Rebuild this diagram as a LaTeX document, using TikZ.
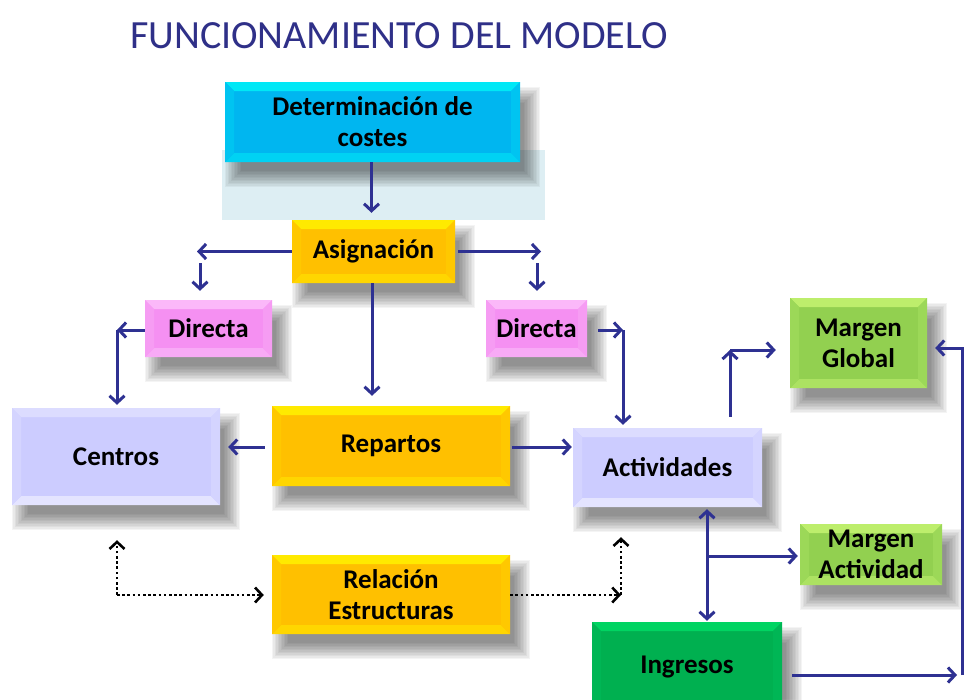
\documentclass[tikz,border=0pt]{standalone}
\usepackage{fontspec}
\setmainfont{Carlito}
\usetikzlibrary{arrows.meta}
\pgfdeclarelayer{bg}
\pgfsetlayers{bg,main}
\definecolor{navy}{HTML}{2E3192}
\definecolor{titlecol}{HTML}{2F3088}
\definecolor{palebg}{HTML}{DDEEF3}
\definecolor{goldM}{HTML}{FFC000}\definecolor{goldT}{HTML}{FFEA00}\definecolor{goldB}{HTML}{FFD600}\definecolor{goldS}{HTML}{FFC800}
\definecolor{cyanM}{HTML}{00B6F0}\definecolor{cyanT}{HTML}{00E8F6}\definecolor{cyanB}{HTML}{00D2F3}\definecolor{cyanS}{HTML}{00C4F1}
\definecolor{pinkM}{HTML}{F590F2}\definecolor{pinkT}{HTML}{FBB8F9}\definecolor{pinkB}{HTML}{F8AAF6}\definecolor{pinkS}{HTML}{F69CF3}
\definecolor{lavM}{HTML}{CCCCFF}\definecolor{lavT}{HTML}{DCDCFF}\definecolor{lavB}{HTML}{E4E4FF}\definecolor{lavS}{HTML}{D4D4FF}
\definecolor{lgM}{HTML}{92D050}\definecolor{lgT}{HTML}{BDEE6C}\definecolor{lgB}{HTML}{ACE262}\definecolor{lgS}{HTML}{9CD858}
\definecolor{grM}{HTML}{00B050}\definecolor{grT}{HTML}{00D462}\definecolor{grB}{HTML}{00C25A}\definecolor{grS}{HTML}{00B655}
\newcommand{\bvl}{9pt}
\tikzset{
  btn/.style n args={4}{
    fill=#1, draw=none, text=black, align=center,
    font=\bfseries\fontsize{27}{31}\selectfont,
    path picture={
      \fill[#2] (path picture bounding box.north west) -- (path picture bounding box.north east)
        -- ([xshift=-\bvl,yshift=-\bvl]path picture bounding box.north east)
        -- ([xshift=\bvl,yshift=-\bvl]path picture bounding box.north west) -- cycle;
      \fill[#3] (path picture bounding box.south west) -- (path picture bounding box.south east)
        -- ([xshift=-\bvl,yshift=\bvl]path picture bounding box.south east)
        -- ([xshift=\bvl,yshift=\bvl]path picture bounding box.south west) -- cycle;
      \fill[#4] (path picture bounding box.north west) -- ([xshift=\bvl,yshift=-\bvl]path picture bounding box.north west)
        -- ([xshift=\bvl,yshift=\bvl]path picture bounding box.south west) -- (path picture bounding box.south west) -- cycle;
      \fill[#4] (path picture bounding box.north east) -- ([xshift=-\bvl,yshift=-\bvl]path picture bounding box.north east)
        -- ([xshift=-\bvl,yshift=\bvl]path picture bounding box.south east) -- (path picture bounding box.south east) -- cycle;
    }
  },
  gold/.style={btn={goldM}{goldT}{goldB}{goldS}},
  cyanbox/.style={btn={cyanM}{cyanT}{cyanB}{cyanS}},
  pinkbox/.style={btn={pinkM}{pinkT}{pinkB}{pinkS}},
  lavbox/.style={btn={lavM}{lavT}{lavB}{lavS}},
  lgbox/.style={btn={lgM}{lgT}{lgB}{lgS}},
  grbox/.style={btn={grM}{grT}{grB}{grS}},
  sz/.style 2 args={minimum width=#1pt, minimum height=#2pt, inner sep=0pt},
  shadowlayer/.style={fill=black, opacity=0.045},
  arr/.style={draw=navy, line width=3pt, -{Straight Barb[length=7pt,width=15pt]}},
  arrb/.style={draw=navy, line width=3pt, {Straight Barb[length=7pt,width=15pt]}-{Straight Barb[length=7pt,width=15pt]}},
  darr/.style={draw=black, line width=2.6pt, dash pattern=on 2.6pt off 2.6pt, -{Straight Barb[length=7pt,width=15pt]}},
}
\begin{document}
\begin{tikzpicture}[x=1pt,y=-1pt]
\useasboundingbox (0,0) rectangle (964,699);
\node[anchor=west, text=titlecol, font=\fontsize{40}{42}\selectfont, inner sep=0pt] (title) at (130,36) {FUNCIONAMIENTO DEL MODELO};
\node[cyanbox, sz={295}{80}] (det) at (372.5,122) {Determinación de\\costes};
\node[gold, sz={163}{63}] (asig) at (373.5,251.5) {Asignación};
\node[pinkbox, sz={127}{57}] (dirL) at (208.5,328.5) {Directa};
\node[pinkbox, sz={101}{57}] (dirR) at (536.5,328.5) {Directa};
\node[gold, sz={238}{80}] (rep) at (391,446) {Repartos};
\node[lavbox, sz={208}{97}] (cen) at (116,456.5) {Centros};
\node[lavbox, sz={189}{79}] (act) at (667.5,467.5) {Actividades};
\node[lgbox, sz={137}{90}] (mg) at (858.5,343) {Margen\\Global};
\node[lgbox, sz={142}{61}] (ma) at (871,554.5) {Margen\\Actividad};
\node[gold, sz={238}{79}] (rel) at (391,594.5) {Relación\\Estructuras};
\node[grbox, sz={190}{90}] (ing) at (687,667) {Ingresos};
% background: white page, pale panel, soft shadows
\begin{pgfonlayer}{bg}
\fill[white] (0,0) rectangle (964,699);
\fill[palebg] (222,150) rectangle (545,220);
\foreach \n in {det,asig,dirL,dirR,rep,cen,act,mg,ma,rel,ing}{
  \foreach \i in {0,...,11}{
    \pgfmathsetmacro\ax{10-10+\i*1.5}
    \pgfmathsetmacro\ay{-15+10-\i*1.5}
    \pgfmathsetmacro\bx{10+10-\i*1.5}
    \pgfmathsetmacro\by{-15-10+\i*1.5}
    \fill[shadowlayer] ([xshift=\ax pt, yshift=\ay pt]\n.north west) rectangle ([xshift=\bx pt, yshift=\by pt]\n.south east);
  }
}
\end{pgfonlayer}
% coordinates
\coordinate (aL) at (197,251.5);
\coordinate (aLd) at (200,263);
\coordinate (aR) at (541,251.5);
\coordinate (aRd) at (537,263);
\coordinate (cL) at (117,330);
\coordinate (cR) at (623,330);
\coordinate (gU) at (730,350);
\coordinate (br) at (707,556);
\coordinate (rb) at (957,675);
\coordinate (rc) at (962,675);
\coordinate (rt) at (962,348);
\coordinate (dl) at (117,595);
\coordinate (dr) at (621,595);
% connectors
\draw[arr, shorten >=7pt] ([xshift=-1pt]det.south) -- ([xshift=-1pt]det.south |- asig.north);
\draw[arr] (asig.west) -- (aL);
\draw[arr, shorten >=9pt] (aLd) -- (aLd |- dirL.north);
\draw[arr, shorten <=3pt] (asig.east) -- (aR);
\draw[arr, shorten >=9pt] (aRd) -- (aRd |- dirR.north);
\draw[arr, shorten >=10pt] ([xshift=-1.5pt]asig.south) -- ([xshift=-1.5pt]asig.south |- rep.north);
\draw[arr, shorten <=0pt] (dirL.west |- cL) -- (cL);
\draw[arr, shorten >=3pt] (cL) -- (cL |- cen.north);
\draw[arr, shorten <=7pt, shorten >=8pt] (rep.west |- 0,447) -- (cen.east |- 0,447);
\draw[arr, shorten <=2pt, shorten >=1pt] (rep.east |- 0,447) -- (act.west |- 0,447);
\draw[arr, shorten <=11pt] (dirR.east |- cR) -- (cR);
\draw[arr, shorten >=3pt] (cR) -- (cR |- act.north);
\draw[arr, shorten <=11pt] (act.north -| gU) -- (gU);
\draw[arr, shorten >=14pt] (gU) -- (gU -| mg.west);
\draw[arrb, shorten <=2pt, shorten >=1pt] (act.south -| br) -- (ing.north -| br);
\draw[arr, shorten >=2pt] (br) -- (br -| ma.west);
\draw[arr, shorten <=10pt] (ing.east |- rb) -- (rb);
\draw[arr, shorten >=8pt] (rc) -- (rt) -- (rt -| mg.east);
\draw[darr, shorten >=8pt] (dl) -- (dl -| rel.west);
\draw[darr, shorten >=35pt] (dl) -- (dl |- cen.south);
\draw[darr] (rel.east |- dr) -- (dr);
\draw[darr, shorten >=30pt] (dr) -- (dr |- act.south);
\end{tikzpicture}
\end{document}
